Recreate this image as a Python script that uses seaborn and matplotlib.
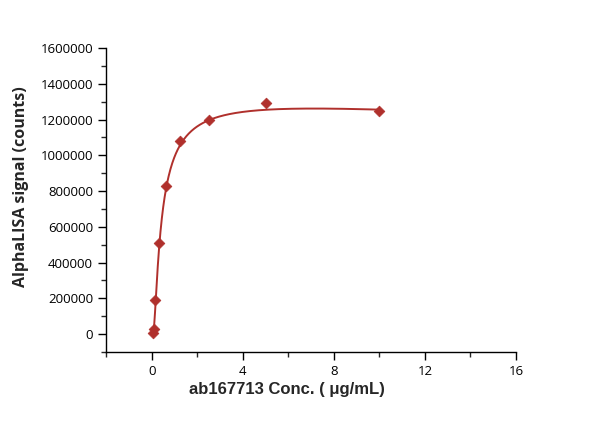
import numpy as np
import pandas as pd
import seaborn as sns
import matplotlib
matplotlib.use("Agg")
import matplotlib.pyplot as plt
from matplotlib.ticker import MultipleLocator, FuncFormatter

conc = [10, 5, 2.5, 1.25, 0.625, 0.3125, 0.156, 0.078, 0.039]
signal = [1245000, 1292000, 1195000, 1078000, 828000, 512000, 188000, 30000, 5000]

# trace of the fitted line in the reference
curve_conc = [0.06, 0.18, 0.34, 0.65, 0.94, 1.28, 1.82, 2.51, 3.57, 5.02, 6.3, 7.6, 9.0, 10.0]
curve_signal = [7000, 191000, 517000, 832000, 967000, 1068000, 1132000, 1185000,
                1237000, 1264000, 1272000, 1268000, 1256000, 1243000]

df = pd.DataFrame({"conc": conc, "signal": signal})


# 5PL dose response with a high-dose drop
def model(p, x):
    V, b, g, K, c = p
    return V / (1.0 + (abs(K) / x) ** b) ** abs(g) / (1.0 + c * x)


x = np.array(curve_conc)
y = np.array(curve_signal) / 1e6

# coarse grid for a start
best = None
for b in np.linspace(1.0, 5.0, 17):
    for g in np.geomspace(0.1, 2.0, 16):
        for K in np.geomspace(0.05, 3.0, 20):
            for c in [0.0, 0.005, 0.01, 0.02, 0.04]:
                s = model([1.0, b, g, K, c], x)
                V = s @ y / (s @ s)
                e = np.sum((V * s - y) ** 2)
                if best is None or e < best[0]:
                    best = (e, np.array([V, b, g, K, c]))
p = best[1]

# Levenberg-Marquardt polish
lam = 1e-3
for it in range(400):
    r = y - model(p, x)
    J = np.empty((len(x), len(p)))
    for j in range(len(p)):
        h = 1e-6 * max(1.0, abs(p[j]))
        dp = p.copy()
        dp[j] += h
        J[:, j] = (model(dp, x) - model(p, x)) / h
    A = J.T @ J
    step = np.linalg.solve(A + lam * np.diag(np.diag(A) + 1e-12), J.T @ r)
    pn = p + step
    rn = y - model(pn, x)
    if np.all(np.isfinite(rn)) and np.sum(rn ** 2) < np.sum(r ** 2):
        p = pn
        lam = max(lam / 3, 1e-9)
    else:
        lam *= 3

xf = np.linspace(0.045, 10, 500)
fit = pd.DataFrame({"conc": xf, "signal": model(p, xf) * 1e6})

sns.set_style("ticks")
plt.rcParams["font.family"] = ["Open Sans", "DejaVu Sans"]

fig = plt.figure(figsize=(6, 4.21), dpi=100)
ax = fig.add_axes([0.177, 0.164, 0.683, 0.722])

red = "#b0302c"
sns.lineplot(data=fit, x="conc", y="signal", ax=ax, color=red, linewidth=1.4)
sns.scatterplot(data=df, x="conc", y="signal", ax=ax, color=red, marker="D",
                s=30, edgecolor=red, linewidth=0.5, zorder=3)

ax.set_xlim(-2, 16)
ax.set_ylim(-100000, 1600000)
ax.xaxis.set_major_locator(MultipleLocator(4))
ax.xaxis.set_minor_locator(MultipleLocator(2))
ax.yaxis.set_major_locator(MultipleLocator(200000))
ax.yaxis.set_minor_locator(MultipleLocator(100000))
ax.yaxis.set_major_formatter(FuncFormatter(lambda v, p: "%d" % v))
ax.tick_params(which="major", direction="out", length=6, width=1, labelsize=9.5, colors="black")
ax.tick_params(which="minor", direction="out", length=3.5, width=1)
for s in ["top", "right"]:
    ax.spines[s].set_visible(False)
for s in ["left", "bottom"]:
    ax.spines[s].set_linewidth(1)
    ax.spines[s].set_color("black")

ax.set_xlabel("ab167713 Conc. ( μg/mL)", fontsize=12, fontweight="bold",
              family=["Liberation Sans", "DejaVu Sans"])
ax.set_ylabel("AlphaLISA signal (counts)", fontsize=11.5, fontweight="bold")
ax.xaxis.set_label_coords(0.44, -0.098)
ax.yaxis.set_label_coords(-0.188, 0.543)

fig.savefig("out.png", dpi=100)
